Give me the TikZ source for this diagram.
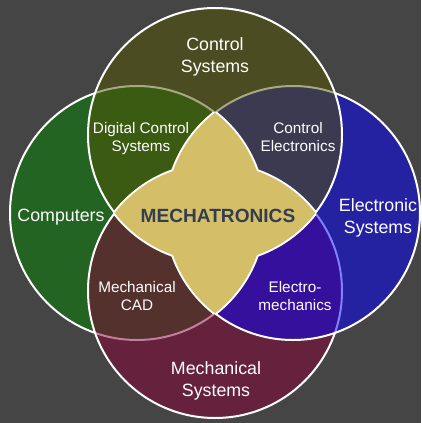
\documentclass[tikz,border=0pt]{standalone}
\usepackage{fontspec}
\setmainfont{Liberation Sans}

\definecolor{bgcol}{RGB}{69,69,69}
\definecolor{lftcol}{RGB}{35,100,35}
\definecolor{botcol}{RGB}{135,0,55}
\definecolor{rgtcol}{RGB}{5,0,251}
\definecolor{topcol}{RGB}{83,83,3}
\definecolor{khaki}{RGB}{212,190,104}
\definecolor{mechcol}{RGB}{52,60,80}

\begin{document}
\begin{tikzpicture}[x=1pt, y=-1pt,
    ring/.style={draw=white, line width=2pt},
    lbl/.style={text=white, align=center, inner sep=0pt, font=\fontsize{17.8}{21.5}\selectfont},
    sublbl/.style={text=white, align=center, inner sep=0pt, font=\fontsize{15.3}{18}\selectfont}]
    \fill[bgcol] (0,0) rectangle (421,423);
    \useasboundingbox (0,0) rectangle (421,423);

    \coordinate (l) at (137,213);
    \coordinate (r) at (293,213);
    \coordinate (t) at (215,135);
    \coordinate (b) at (215,291);

    % four circles, later ones half transparent
    \filldraw[ring, fill=lftcol] (l) circle[radius=127];
    \filldraw[ring, fill=botcol, fill opacity=0.5] (b) circle[radius=127];
    \filldraw[ring, fill=rgtcol, fill opacity=0.5] (r) circle[radius=127];
    \filldraw[ring, fill=topcol, fill opacity=0.5] (t) circle[radius=127];

    % centre outline
    \begin{scope}
        \clip (l) circle[radius=127];
        \draw[white, line width=4pt] (r) circle[radius=127];
    \end{scope}
    \begin{scope}
        \clip (r) circle[radius=127];
        \draw[white, line width=4pt] (l) circle[radius=127];
    \end{scope}
    \begin{scope}
        \clip (t) circle[radius=127];
        \draw[white, line width=4pt] (b) circle[radius=127];
    \end{scope}
    \begin{scope}
        \clip (b) circle[radius=127];
        \draw[white, line width=4pt] (t) circle[radius=127];
    \end{scope}

    % centre fill
    \begin{scope}
        \clip (l) circle[radius=127];
        \fill[khaki] (r) circle[radius=127];
    \end{scope}
    \begin{scope}
        \clip (t) circle[radius=127];
        \fill[khaki] (b) circle[radius=127];
    \end{scope}

    \node[lbl] (ctrl) at (215,57) {Control\\Systems};
    \node[lbl] (comp) at (61,217.4) {Computers};
    \node[lbl] (elsys) at (378,218) {Electronic\\Systems};
    \node[lbl] (mechsys) at (216,381) {Mechanical\\Systems};
    \node[sublbl] (dig) at (141,139) {Digital Control\\Systems};
    \node[sublbl] (ctel) at (298,137.4) {Control\\Electronics};
    \node[sublbl] (mcad) at (137,296.4) {Mechanical\\CAD};
    \node[sublbl] (elmech) at (295,296.4) {Electro-\\mechanics};
    \node[inner sep=0pt, text=mechcol, font=\fontsize{19.1}{22}\selectfont\bfseries] (mech) at (218,216) {MECHATRONICS};
\end{tikzpicture}
\end{document}
